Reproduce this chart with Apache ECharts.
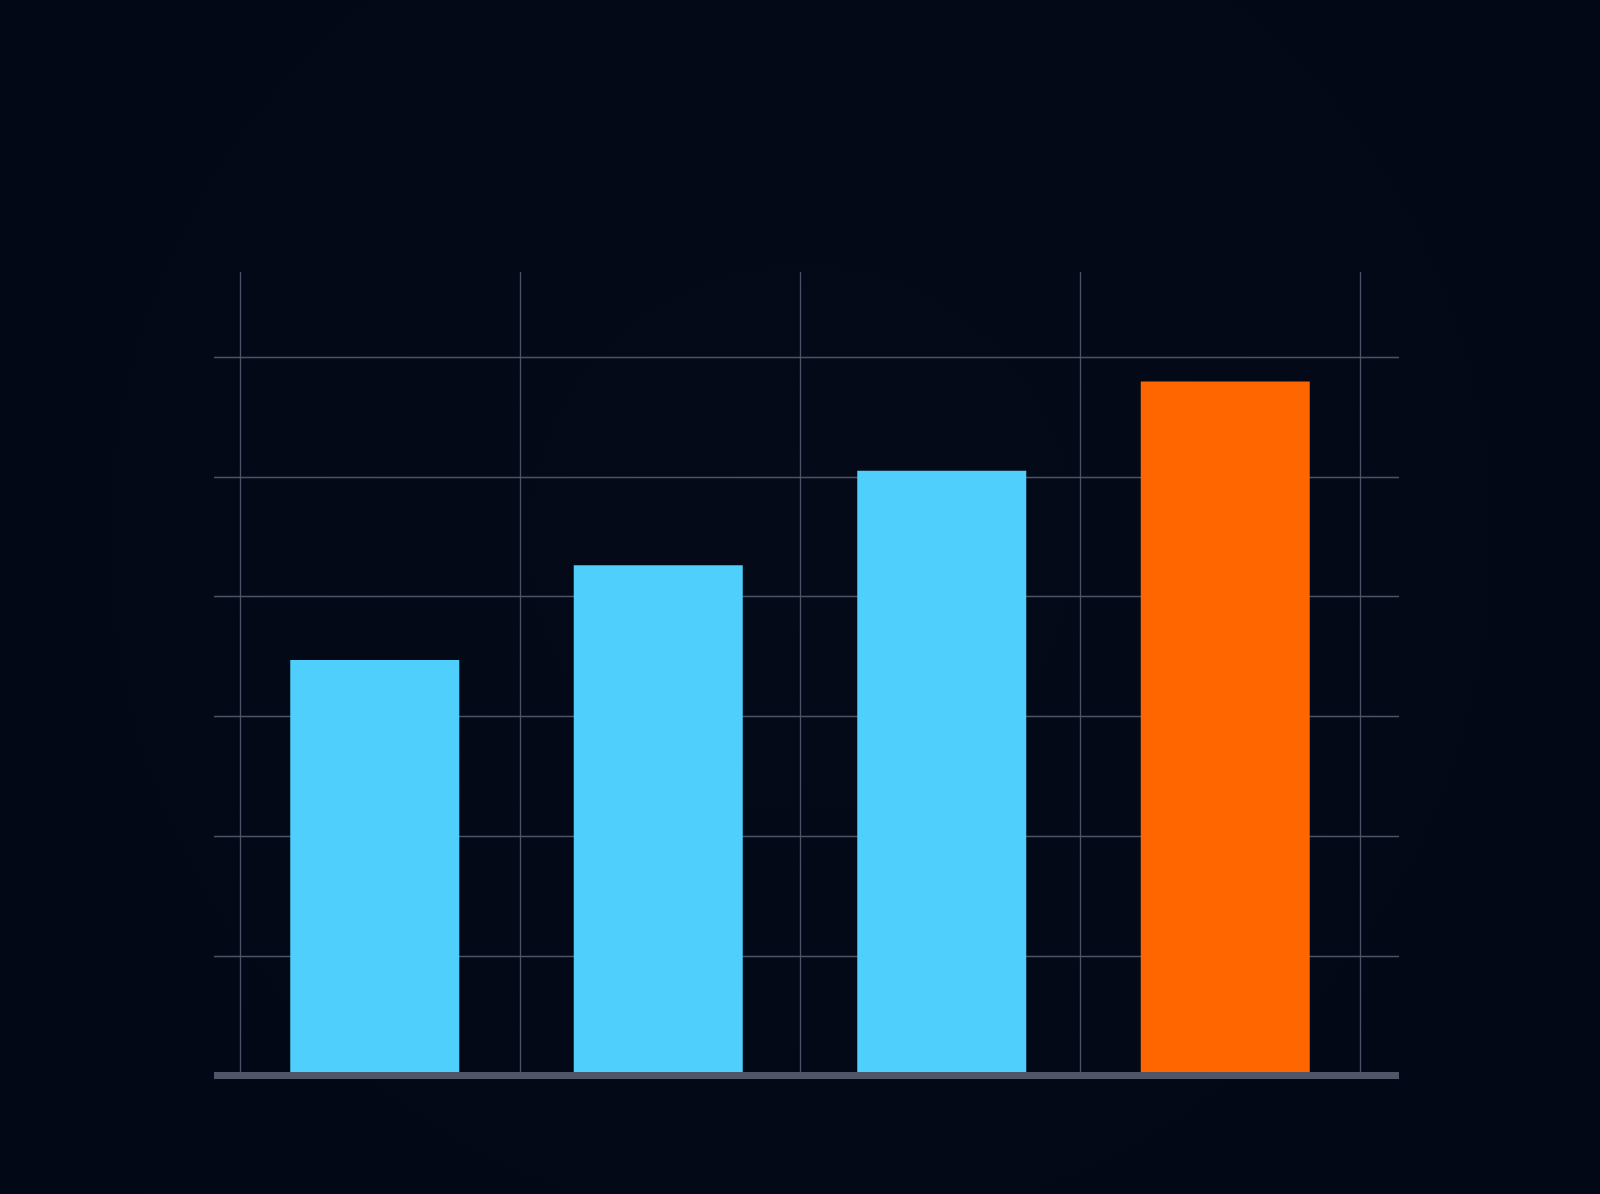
<!DOCTYPE html>
<html>
<head>
<meta charset="utf-8">
<script src="https://cdn.jsdelivr.net/npm/echarts@6/dist/echarts.min.js"></script>
<style>
html,body{margin:0;padding:0;background:#040918;}
#chart{width:1600px;height:1194px;}
</style>
</head>
<body>
<div id="chart"></div>
<script>
const categories = ['A', 'B', 'C', 'D'];
const values = [69.4, 85.2, 101.0, 115.9];
const highlightIndex = 3;
const yMin = 0;
const yMax = 120;
const yInterval = 20;
const columnTicks = [0, 4];

const chart = echarts.init(document.getElementById('chart'));
const gridColor = '#4d5367';
const option = {
  backgroundColor: {
    type: 'radial', x: 0.5, y: 0.45, r: 0.8,
    colorStops: [{offset: 0, color: '#050a19'}, {offset: 1, color: '#030816'}]
  },
  animation: false,
  grid: [
    {left: 214, right: 201, top: 357, bottom: 118.5},
    {left: 240, right: 240, top: 272, bottom: 118.5},
    {left: 233, right: 233, top: 357, bottom: 118.5}
  ],
  xAxis: [
    {gridIndex: 0, type: 'category', data: categories, z: 5,
     axisLine: {show: true, lineStyle: {color: '#505668', width: 7, cap: 'butt'}},
     axisTick: {show: false}, axisLabel: {show: false}, splitLine: {show: false}},
    {gridIndex: 1, type: 'value', min: columnTicks[0], max: columnTicks[1], interval: 1,
     axisLine: {show: false}, axisTick: {show: false}, axisLabel: {show: false},
     splitLine: {show: true, lineStyle: {color: gridColor, width: 1.3}}},
    {gridIndex: 2, type: 'category', data: categories,
     axisLine: {show: false}, axisTick: {show: false}, axisLabel: {show: false}}
  ],
  yAxis: [
    {gridIndex: 0, type: 'value', min: yMin, max: yMax, interval: yInterval,
     axisLine: {show: false}, axisTick: {show: false}, axisLabel: {show: false},
     splitLine: {show: true, lineStyle: {color: gridColor, width: 1.3}}},
    {gridIndex: 1, type: 'value', min: 0, max: 1, show: false, splitLine: {show: false}},
    {gridIndex: 2, type: 'value', min: yMin, max: yMax, show: false, splitLine: {show: false}}
  ],
  series: [
    {type: 'bar', xAxisIndex: 2, yAxisIndex: 2, barWidth: 169,
     data: values.map((v, i) => ({value: v, itemStyle: {color: i === highlightIndex ? '#ff6600' : '#4fcffc'}}))}
  ]
};
chart.setOption(option);
</script>
</body>
</html>
